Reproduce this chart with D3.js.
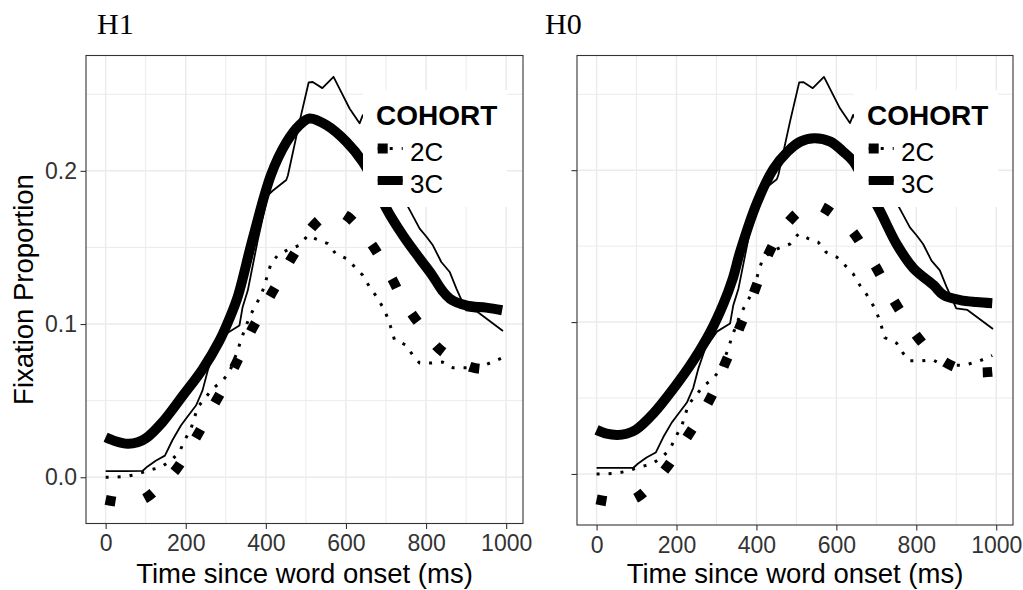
<!DOCTYPE html>
<html>
<head>
<meta charset="utf-8">
<script src="https://cdn.jsdelivr.net/npm/d3@7"></script>
<style>
  body { margin: 0; background: #fff; }
  svg { display: block; }
</style>
</head>
<body>
<svg id="chart" width="1023" height="590"></svg>
<script>
// observed proportions (same data in both panels)
const timeObs3C = [0, 20, 50, 92, 104, 125, 148, 167, 188, 200, 226, 242, 255, 272, 301, 334, 342, 355, 380, 405, 417, 451, 455, 484, 507, 517, 541, 569, 588, 609, 634, 642, 680, 720, 755, 784, 801, 817, 838, 859, 876, 900, 928, 992];
const obs3C = [0.004, 0.004, 0.004, 0.0041, 0.0069, 0.0108, 0.0141, 0.0243, 0.0338, 0.038, 0.047, 0.0567, 0.0697, 0.0828, 0.0937, 0.099, 0.111, 0.122, 0.155, 0.184, 0.187, 0.194, 0.197, 0.232, 0.2578, 0.258, 0.254, 0.2614, 0.2516, 0.2407, 0.231, 0.2364, 0.215, 0.195, 0.1765, 0.1623, 0.157, 0.1514, 0.1405, 0.134, 0.123, 0.109, 0.108, 0.0955];

const timeObs2C = [0, 21, 50, 80, 105, 138, 163, 184, 197, 213, 230, 247, 267, 291, 309, 330, 338, 359, 372, 388, 397, 405, 413, 430, 454, 484, 505, 530, 555, 574, 601, 622, 642, 659, 676, 692, 705, 713, 721, 751, 767, 784, 813, 841, 867, 892, 917, 951, 976, 990];
const obs2C = [0, 0, 0.0005, 0.002, 0.0044, 0.0065, 0.0109, 0.0163, 0.024, 0.0316, 0.0458, 0.0512, 0.0578, 0.0627, 0.0686, 0.0828, 0.0898, 0.1046, 0.111, 0.1188, 0.1253, 0.133, 0.1395, 0.145, 0.1484, 0.1514, 0.158, 0.155, 0.1525, 0.146, 0.1428, 0.1373, 0.1318, 0.1242, 0.118, 0.111, 0.1035, 0.097, 0.0898, 0.0861, 0.0795, 0.0745, 0.0745, 0.0752, 0.0715, 0.0715, 0.0715, 0.0737, 0.0763, 0.078];

// model fits, H1
const timeFitH1_3C = [0, 25, 55, 80, 101, 142, 192, 242, 284, 309, 330, 367, 413, 451, 484, 509, 551, 601, 642, 672, 701, 742, 784, 815, 840, 860, 900, 950, 990];
const fitH1_3C = [0.0261, 0.0235, 0.0218, 0.0228, 0.0255, 0.036, 0.053, 0.0705, 0.089, 0.1035, 0.118, 0.1555, 0.1975, 0.2185, 0.2299, 0.2342, 0.2299, 0.219, 0.2059, 0.192, 0.1754, 0.158, 0.1428, 0.132, 0.122, 0.1165, 0.1122, 0.1107, 0.109];

const timeFitH1_2C = [0, 40, 70, 103, 140, 174, 200, 226, 250, 274, 300, 322, 345, 363, 390, 412, 440, 461, 490, 516, 550, 580, 603, 630, 667, 690, 717, 740, 767, 800, 828, 860, 912, 950, 990];
const fitH1_2C = [-0.0148, -0.0165, -0.0165, -0.0131, -0.0045, 0.0044, 0.0145, 0.0261, 0.0373, 0.049, 0.0612, 0.0723, 0.0848, 0.0954, 0.108, 0.1188, 0.1315, 0.1416, 0.1535, 0.1634, 0.1712, 0.1732, 0.1704, 0.1635, 0.151, 0.1413, 0.1286, 0.1168, 0.1057, 0.0945, 0.085, 0.0785, 0.0719, 0.0705, 0.0712];

// model fits, H0
const timeFitH0_3C = [0, 25, 52, 75, 98, 143, 193, 243, 285, 318, 340, 360, 402, 443, 477, 510, 545, 585, 618, 643, 675, 710, 752, 793, 843, 868, 910, 950, 990];
const fitH0_3C = [0.029, 0.0265, 0.0257, 0.0265, 0.029, 0.04, 0.0564, 0.075, 0.0937, 0.1124, 0.128, 0.147, 0.179, 0.201, 0.212, 0.2188, 0.221, 0.2188, 0.212, 0.2056, 0.19, 0.1727, 0.1508, 0.1354, 0.1244, 0.1178, 0.1145, 0.1132, 0.1124];

const timeFitH0_2C = [0, 40, 70, 102, 140, 172, 200, 228, 255, 279, 300, 318, 340, 356, 375, 393, 410, 429, 455, 483, 515, 545, 568, 600, 625, 645, 670, 697, 720, 743, 770, 795, 830, 867, 900, 930, 958, 990];
const fitH0_2C = [-0.0167, -0.0185, -0.0185, -0.0153, -0.0065, 0.0031, 0.0135, 0.025, 0.036, 0.0469, 0.058, 0.0706, 0.084, 0.0952, 0.107, 0.119, 0.131, 0.1442, 0.157, 0.1668, 0.1745, 0.1775, 0.1753, 0.1695, 0.164, 0.158, 0.148, 0.1371, 0.1258, 0.1145, 0.103, 0.093, 0.082, 0.0744, 0.07, 0.0676, 0.0668, 0.0672];

const xTicks = [0, 200, 400, 600, 800, 1000];
const xMinor = [100, 300, 500, 700, 900];
const yTicks = [0, 0.1, 0.2];
const yMinor = [0.05, 0.15, 0.25];
const cohorts = ["2C", "3C"];

const sans = "'Liberation Sans', Arial, sans-serif";
const svg = d3.select("#chart");
const xDomain = [-49, 1042];

const zip = (t, v) => t.map((d, i) => [d, v[i]]);

const panels = [
  { title: "H1", titleX: 97, left: 86, right: 523, top: 55.5, bottom: 523.5,
    yDomain: [-0.0302, 0.2753], yLabels: true, fit3C: zip(timeFitH1_3C, fitH1_3C), fit2C: zip(timeFitH1_2C, fitH1_2C) },
  { title: "H0", titleX: 545, left: 577, right: 1013, top: 55.5, bottom: 525,
    yDomain: [-0.0336, 0.2755], yLabels: false, fit3C: zip(timeFitH0_3C, fitH0_3C), fit2C: zip(timeFitH0_2C, fitH0_2C) }
];

const styles = {
  fit3C: { width: 10, dash: null },
  fit2C: { width: 10, dash: "10,30" },
  obs3C: { width: 1.8, dash: null },
  obs2C: { width: 3, dash: "3,9" }
};

function drawPanel(p) {
  const x = d3.scaleLinear().domain(xDomain).range([p.left, p.right]);
  const y = d3.scaleLinear().domain(p.yDomain).range([p.bottom, p.top]);
  const g = svg.append("g");

  // grid
  g.selectAll(".gx").data(xMinor.concat(xTicks)).join("line")
    .attr("x1", d => x(d)).attr("x2", d => x(d))
    .attr("y1", p.top).attr("y2", p.bottom)
    .attr("stroke", "#ebebeb").attr("stroke-width", d => xTicks.includes(d) ? 1.5 : 1);
  g.selectAll(".gy").data(yMinor.concat(yTicks)).join("line")
    .attr("y1", d => y(d)).attr("y2", d => y(d))
    .attr("x1", p.left).attr("x2", p.right)
    .attr("stroke", "#ebebeb").attr("stroke-width", d => yTicks.includes(d) ? 1.5 : 1);

  const clipId = "clip-" + p.title;
  svg.append("clipPath").attr("id", clipId).append("rect")
    .attr("x", p.left).attr("y", p.top)
    .attr("width", p.right - p.left).attr("height", p.bottom - p.top);

  const line = d3.line().x(d => x(d[0])).y(d => y(d[1]));
  const smooth = d3.line().x(d => x(d[0])).y(d => y(d[1])).curve(d3.curveCatmullRom);

  const series = [
    { data: p.fit3C, gen: smooth, st: styles.fit3C },
    { data: zip(timeObs3C, obs3C), gen: line, st: styles.obs3C },
    { data: p.fit2C, gen: smooth, st: styles.fit2C },
    { data: zip(timeObs2C, obs2C), gen: line, st: styles.obs2C }
  ];
  const lines = g.append("g").attr("clip-path", `url(#${clipId})`);
  series.forEach(s => {
    lines.append("path")
      .attr("d", s.gen(s.data))
      .attr("fill", "none")
      .attr("stroke", "#000")
      .attr("stroke-width", s.st.width)
      .attr("stroke-dasharray", s.st.dash)
      .attr("stroke-linejoin", "round");
  });

  // legend
  const lg = g.append("g").attr("transform", `translate(${p.left},0)`);
  lg.append("rect").attr("x", 277).attr("y", 90).attr("width", 144).attr("height", 117).attr("fill", "#fff");
  lg.append("text").attr("x", 290).attr("y", 125).text("COHORT")
    .style("font", `bold 28px ${sans}`).attr("fill", "#000");
  const keyY = [148.5, 180.5];
  cohorts.forEach((c, i) => {
    const keys = c === "2C" ? [styles.fit2C, styles.obs2C] : [{ width: 9, dash: null }, styles.obs3C];
    keys.forEach(st => {
      lg.append("line").attr("x1", 291.7).attr("x2", 316.7)
        .attr("y1", keyY[i]).attr("y2", keyY[i])
        .attr("stroke", "#000").attr("stroke-width", st.width)
        .attr("stroke-dasharray", st.dash);
    });
    lg.append("text").attr("x", 324).attr("y", keyY[i] + 12).text(c)
      .style("font", `26px ${sans}`).attr("fill", "#000");
  });

  // axes
  const xAxis = d3.axisBottom(x).tickValues(xTicks).tickSize(5.5).tickPadding(6).tickFormat(d3.format("d"));
  const ax = g.append("g").attr("transform", `translate(0,${p.bottom})`).call(xAxis);
  const yAxis = d3.axisLeft(y).tickValues(yTicks).tickSize(5.5).tickPadding(3.5)
    .tickFormat(p.yLabels ? d3.format(".1f") : "");
  const ay = g.append("g").attr("transform", `translate(${p.left},0)`).call(yAxis);
  [ax, ay].forEach(a => {
    a.select(".domain").remove();
    a.selectAll(".tick line").attr("stroke", "#333").attr("stroke-width", 1.1);
    a.selectAll(".tick text").style("font", `23px ${sans}`).attr("fill", "#333");
  });

  g.append("rect")
    .attr("x", p.left).attr("y", p.top)
    .attr("width", p.right - p.left).attr("height", p.bottom - p.top)
    .attr("fill", "none").attr("stroke", "#333").attr("stroke-width", 1.1);

  g.append("text")
    .attr("x", (p.left + p.right) / 2).attr("y", 583)
    .attr("text-anchor", "middle")
    .style("font", `27.5px ${sans}`)
    .text("Time since word onset (ms)");

  g.append("text").attr("x", p.titleX).attr("y", 34)
    .style("font", "30px 'Liberation Serif', 'Times New Roman', serif")
    .text(p.title);
}

panels.forEach(drawPanel);

svg.append("text")
  .attr("transform", "translate(33,289.5) rotate(-90)")
  .attr("text-anchor", "middle")
  .style("font", `27.5px ${sans}`)
  .text("Fixation Proportion");
</script>
</body>
</html>
